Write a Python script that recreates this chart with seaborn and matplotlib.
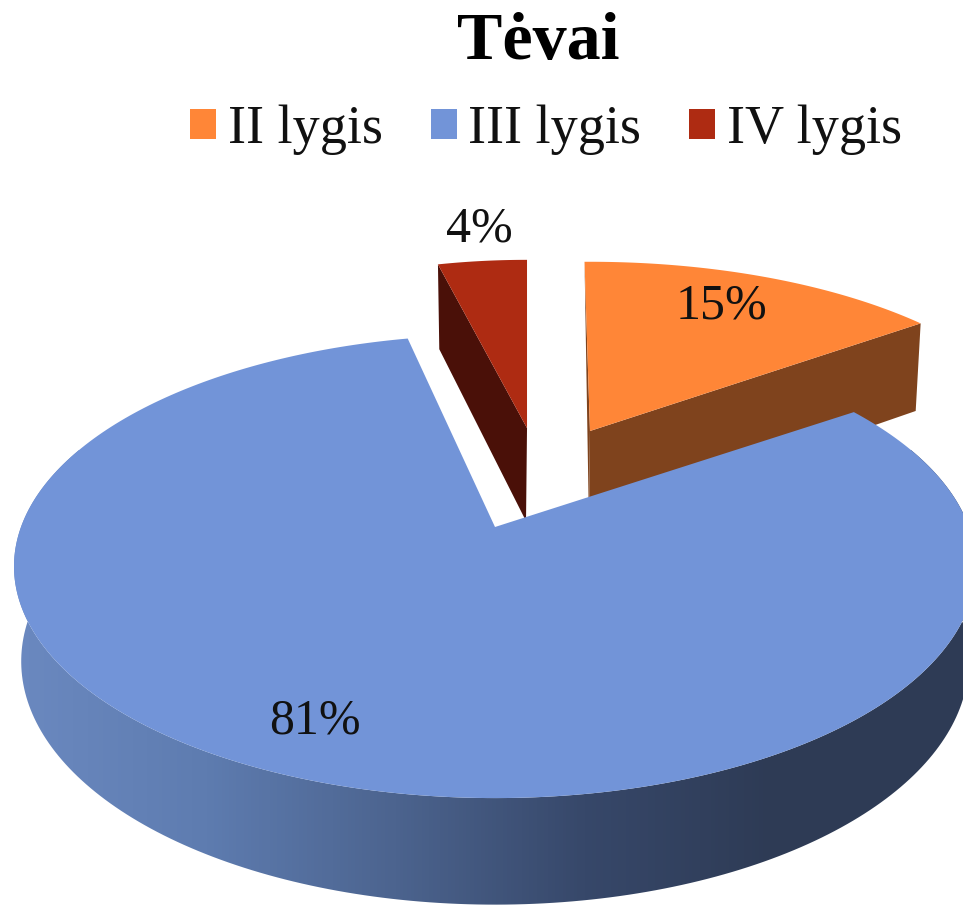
import numpy as np
import matplotlib
matplotlib.use("Agg")
import matplotlib.pyplot as plt
from matplotlib.colors import LinearSegmentedColormap
from matplotlib.patches import Patch, Polygon
import seaborn as sns

# values from the picture
labels = ["II lygis", "III lygis", "IV lygis"]
values = [15, 81, 4]
pct_labels = ["15%", "81%", "4%"]

sns.set_theme(style="white")
plt.rcParams["font.family"] = ["Liberation Serif", "DejaVu Serif"]

face_colors = ["#FF8637", "#7294D8", "#AE2B12"]
side_colors = ["#7F431D", None, "#4A1008"]
# blue rim goes lighter -> darker from left to right
rim_palette = sns.blend_palette(["#6B89C0", "#5E7CB0", "#4C648F", "#37486A", "#2E3B55", "#2E3B55"], 256)
rim_cmap = LinearSegmentedColormap.from_list("rim", rim_palette)

# pie camera (pixels of the picture)
CX, CY = 495, 527
R, S, K = 474, 225, 0.17
DEPTH = 93
R_B, S_B = 0.985, 1.05

# per slice: explode offset on the disc, rotation, radius scale
explode = [(0.216, 0.46), (0, 0), (0.073, 0.475)]
rotate = [-0.8, 2, 0]
r_scale = [0.96, 1.0, 0.88]
s_scale = [0.88, 1.0, 0.875]
pct_pos = [(722, 306), (315, 721), (479, 229)]


def project(u, v):
    w = 1 + K * v
    return CX + R * u / w, CY - S * v / w


def rim(apex, a, rs, ss, bottom=False):
    u, v = np.sin(a), np.cos(a)
    w = 1 + K * v
    if bottom:
        return apex[0] + R * R_B * rs * u / w, apex[1] + DEPTH - S * S_B * ss * v / w
    return apex[0] + R * rs * u / w, apex[1] - S * ss * v / w


fig = plt.figure(figsize=(9.63, 9.05), dpi=100)
ax = fig.add_axes([0, 0, 1, 1])

edges = np.cumsum([0] + values) * 3.6
slices = []
for i in range(3):
    a = np.radians(np.linspace(edges[i] + rotate[i], edges[i + 1] + rotate[i], 300))
    apex = project(*explode[i])
    slices.append((a, apex))

# back slices first, the big one covers them
for i in [2, 0]:
    a, apex = slices[i]
    x, y = rim(apex, a, r_scale[i], s_scale[i])
    xb, yb = rim(apex, a, r_scale[i], s_scale[i], bottom=True)
    ab = (apex[0] - 1, apex[1] + DEPTH)
    if i == 2:
        cut = [apex, ab, (xb[0], yb[0]), (x[0], y[0])]
    else:
        cut = [apex, ab, (xb[-1], yb[-1]), (x[-1], y[-1])]
        ax.add_patch(Polygon([(x[0], y[0]), apex, ab], closed=True, fc=side_colors[i], ec="none"))
    ax.add_patch(Polygon(cut, closed=True, fc=side_colors[i], ec="none"))
    ax.add_patch(Polygon(np.r_[[apex], np.c_[x, y]], closed=True, fc=face_colors[i], ec="none"))

# blue rim: one gradient image clipped to the rim outline
a, apex = slices[1]
x, y = rim(apex, a, r_scale[1], s_scale[1])
xb, yb = rim(apex, a, r_scale[1], s_scale[1], bottom=True)
front = np.cos(a) < 0.6
rim_shape = Polygon(np.r_[np.c_[x[front], y[front]], np.c_[xb[front], yb[front]][::-1]],
                    closed=True, fc="none", ec="none", transform=ax.transData)
ax.add_patch(rim_shape)
grad = ax.imshow(np.linspace(0, 1, 256)[None, :], cmap=rim_cmap, aspect="auto",
                 extent=(14, 963, 905, 450), zorder=1)
grad.set_clip_path(rim_shape)
ax.add_patch(Polygon(np.r_[[apex], np.c_[x, y]], closed=True, fc=face_colors[1], ec="none", zorder=2))

ax.set_xlim(0, 963)
ax.set_ylim(905, 0)
ax.axis("off")

for txt, pos in zip(pct_labels, pct_pos):
    ax.text(pos[0], pos[1], txt, fontsize=36, color="#111111", ha="center", va="center", zorder=3)

ax.text(538, 43, "Tėvai", fontsize=49, fontweight="bold", color="black", ha="center", va="center")

handles = [Patch(facecolor=c, edgecolor="none", label=l) for c, l in zip(face_colors, labels)]
ax.legend(handles=handles, ncols=3, loc="center left", bbox_to_anchor=(190, 130),
          bbox_transform=ax.transData, frameon=False, fontsize=39, borderpad=0, borderaxespad=0,
          handlelength=0.48, handleheight=0.48, handletextpad=0.22, columnspacing=0.88,
          labelcolor="#111111")

plt.savefig("out.png", dpi=100)
